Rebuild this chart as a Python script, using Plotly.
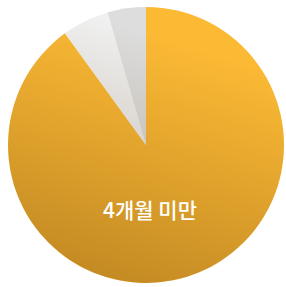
import base64
import plotly.graph_objects as go

categories = ["4개월 미만", "4~6개월", "6개월 이상"]
values = [90.0, 5.5, 4.5]
colors = ["#fbb934", "#f0f0f0", "#dddddd"]

W, H = 286, 287
cx, cy, r = 146, 145, 138

fig = go.Figure(go.Pie(
    labels=categories,
    values=values,
    sort=False,
    direction="clockwise",
    rotation=0,
    marker=dict(colors=colors, line=dict(width=0)),
    textinfo="none",
    hoverinfo="label+percent",
    showlegend=False,
    domain=dict(x=[(cx - r) / W, (cx + r) / W],
                y=[(H - cy - r) / H, (H - cy + r) / H]),
))

svg = f'''<svg xmlns="http://www.w3.org/2000/svg" width="{2*r}" height="{2*r}" viewBox="0 0 {2*r} {2*r}">
<defs><linearGradient id="g" x1="0.7" y1="0.05" x2="0.4" y2="1">
<stop offset="0.1" stop-color="#503000" stop-opacity="0.0"/>
<stop offset="1" stop-color="#502800" stop-opacity="0.32"/>
</linearGradient></defs>
<circle cx="{r}" cy="{r}" r="{r}" fill="url(#g)"/></svg>'''
src = "data:image/svg+xml;base64," + base64.b64encode(svg.encode()).decode()

fig.add_layout_image(dict(
    source=src, xref="paper", yref="paper",
    x=(cx - r) / W, y=(H - cy + r) / H,
    sizex=2 * r / W, sizey=2 * r / H,
    xanchor="left", yanchor="top", sizing="stretch", layer="above",
))

fig.add_annotation(
    text=categories[0], x=150 / W, y=(H - 226) / H, xref="paper", yref="paper",
    showarrow=False,
    font=dict(family="Noto Sans CJK KR", size=21, color="#ffffff", weight=500),
)

fig.update_layout(
    width=W, height=H,
    margin=dict(l=0, r=0, t=0, b=0),
    paper_bgcolor="#ffffff", plot_bgcolor="#ffffff",
)

fig.write_html("out.html", config={"displayModeBar": False},
               post_script="document.body.style.margin='0';document.body.style.overflow='hidden';")
